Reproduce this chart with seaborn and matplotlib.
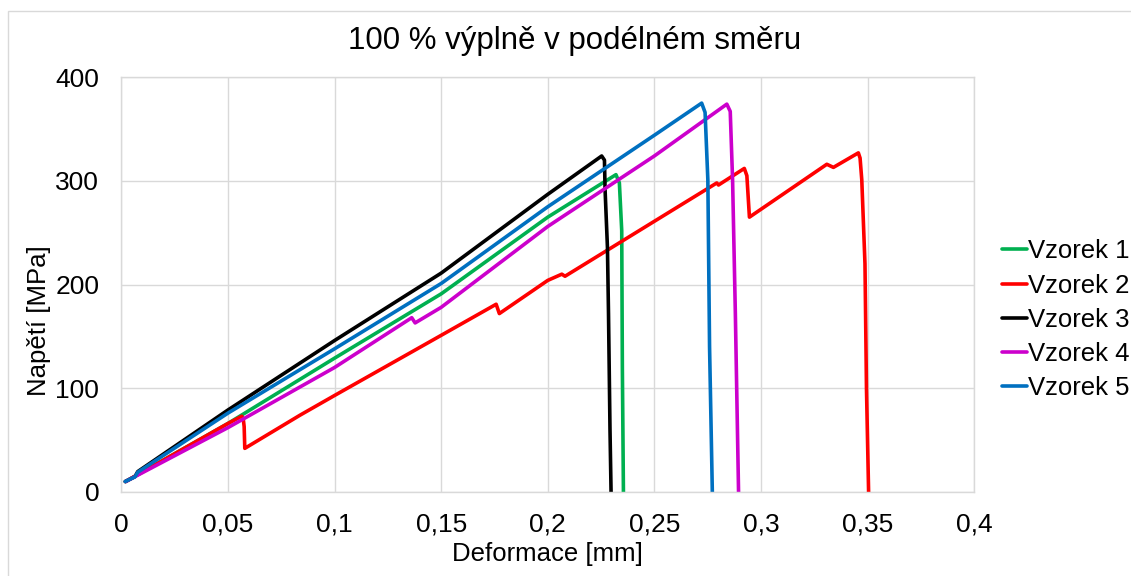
import numpy as np
import pandas as pd
import seaborn as sns
import matplotlib.pyplot as plt
from matplotlib.ticker import FuncFormatter, MultipleLocator
from matplotlib.patches import Rectangle

# data (deformation mm, stress MPa)
vzorek1_x = [0.002, 0.05, 0.1, 0.15, 0.2, 0.232, 0.2336, 0.2347, 0.2350, 0.2355]
vzorek1_y = [10, 66, 129, 191, 265, 306, 298, 252, 120, 0]

vzorek2_x = [0.002, 0.05, 0.0565, 0.0572, 0.0576, 0.0579, 0.0838, 0.1, 0.15, 0.1758,
             0.1773, 0.2, 0.2066, 0.2081, 0.25, 0.2793, 0.2801, 0.2922, 0.2934, 0.2940,
             0.2946, 0.3309, 0.334, 0.3457, 0.3465, 0.3473, 0.3488, 0.3495, 0.3505]
vzorek2_y = [10, 66, 73, 70, 63, 42, 74, 93, 151, 181,
             172, 204, 210, 208, 261, 298, 296, 312, 305, 285,
             265, 316, 313, 327, 322, 301, 220, 100, 0]

vzorek3_x = [0.0018, 0.0064, 0.0077, 0.05, 0.1, 0.15, 0.2, 0.2253, 0.2266, 0.2269,
             0.2280, 0.2285, 0.2292, 0.2297]
vzorek3_y = [10, 14.8, 19.6, 79, 146, 211, 287, 324, 320, 291,
             236, 172, 60, 0]

vzorek4_x = [0.002, 0.05, 0.1, 0.1362, 0.1378, 0.15, 0.2, 0.25, 0.284, 0.2856,
             0.2867, 0.2880, 0.2895]
vzorek4_y = [10, 62, 120, 168, 163, 178, 256, 324, 374, 367,
             301, 172, 0]

vzorek5_x = [0.0018, 0.0064, 0.0077, 0.05, 0.1, 0.15, 0.2, 0.25, 0.2722, 0.2738,
             0.2751, 0.2759, 0.2772]
vzorek5_y = [10, 14.5, 19, 76, 138, 201, 275, 344, 375, 366,
             301, 140, 0]

labels = ["Vzorek 1", "Vzorek 2", "Vzorek 3", "Vzorek 4", "Vzorek 5"]
colors = ["#00B050", "#FF0000", "#000000", "#CC00CC", "#0070C0"]

frames = []
for name, xs, ys in zip(labels,
                        [vzorek1_x, vzorek2_x, vzorek3_x, vzorek4_x, vzorek5_x],
                        [vzorek1_y, vzorek2_y, vzorek3_y, vzorek4_y, vzorek5_y]):
    frames.append(pd.DataFrame({"Deformace": xs, "Napeti": ys, "Vzorek": name}))
df = pd.concat(frames, ignore_index=True)

sns.set_style("whitegrid", {"grid.color": "#D9D9D9", "axes.edgecolor": "#D9D9D9",
                            "text.color": "black", "axes.labelcolor": "black",
                            "xtick.color": "black", "ytick.color": "black"})
plt.rcParams["font.family"] = ["Liberation Sans", "DejaVu Sans"]

fig = plt.figure(figsize=(11.31, 5.76), dpi=100)
ax = fig.add_axes([0.1073, 0.146, 0.754, 0.72])

sns.lineplot(data=df, x="Deformace", y="Napeti", hue="Vzorek", palette=colors,
             sort=False, estimator=None, linewidth=2.6, ax=ax)

ax.set_xlim(0, 0.4)
ax.set_ylim(0, 400)
ax.xaxis.set_major_locator(MultipleLocator(0.05))
ax.yaxis.set_major_locator(MultipleLocator(100))
ax.xaxis.set_major_formatter(FuncFormatter(lambda v, p: f"{v:g}".replace(".", ",")))
ax.tick_params(axis="both", labelsize=19, length=0, labelcolor="black")
ax.tick_params(axis="y", pad=16)
ax.tick_params(axis="x", pad=15)
ax.grid(True, linewidth=1)
for s in ax.spines.values():
    s.set_linewidth(1)

ax.set_xlabel("Deformace [mm]", fontsize=18.5, color="black")
ax.set_ylabel("Napětí [MPa]", fontsize=18.5, color="black")
ax.xaxis.set_label_coords(0.5, -0.121)
ax.yaxis.set_label_coords(-0.083, 0.412)
fig.text(575 / 1131, 1 - 41 / 576, "100 % výplně v podélném směru", fontsize=22.5,
         ha="center", va="center", color="black")

leg = ax.legend(loc="center left", bbox_to_anchor=(1.033, 0.415), frameon=False,
                fontsize=18.5, handlelength=0.95, handletextpad=0.05, labelspacing=0.4,
                borderaxespad=0, borderpad=0, labelcolor="black")
for line in leg.get_lines():
    line.set_linewidth(2.6)

fig.patches.append(Rectangle((8 / 1131, -0.01), 1.02, 1 - 11 / 576 + 0.01,
                             transform=fig.transFigure, fill=False,
                             edgecolor="#D9D9D9", linewidth=1))

fig.savefig("out.png", dpi=100)
